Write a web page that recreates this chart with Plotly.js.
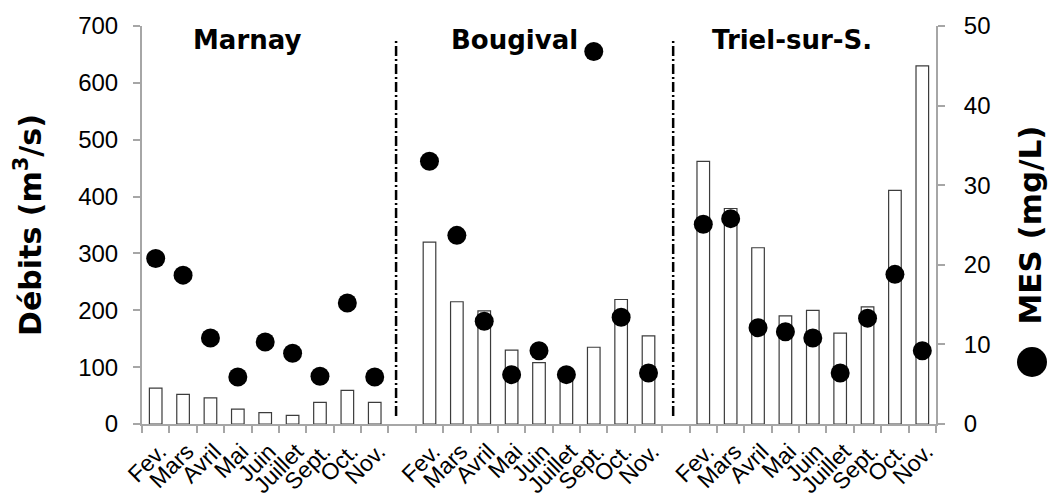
<!DOCTYPE html>
<html>
<head>
<meta charset="utf-8">
<script src="https://cdn.plot.ly/plotly-3.0.1.min.js"></script>
<style>html,body{margin:0;padding:0;background:#fff;}#chart{width:1049px;height:498px;}</style>
</head>
<body>
<div id="chart"></div>
<script>
// ---- data ----
const months = ['Fev.', 'Mars', 'Avril', 'Mai', 'Juin', 'Juillet', 'Sept.', 'Oct.', 'Nov.'];
const sites = ['Marnay', 'Bougival', 'Triel-sur-S.'];
const debitMarnay   = [63, 52, 46, 26, 20, 15, 38, 59, 38];
const debitBougival = [320, 215, 199, 130, 108, 85, 135, 219, 155];
const debitTriel    = [462, 379, 310, 190, 200, 160, 206, 411, 630];
const mesMarnay   = [20.8, 18.7, 10.8, 5.9, 10.3, 8.9, 6.0, 15.2, 5.9];
const mesBougival = [33.0, 23.7, 12.9, 6.2, 9.2, 6.2, 46.8, 13.4, 6.4];
const mesTriel    = [25.1, 25.8, 12.1, 11.6, 10.8, 6.4, 13.3, 18.8, 9.2];
const yTitleLeft = 'Débits (m<sup>3</sup>/s)';
const yTitleRight = 'MES (mg/L)';

// ---- build categories (site blocks separated by an empty slot) ----
const debits = [debitMarnay, debitBougival, debitTriel];
const mes = [mesMarnay, mesBougival, mesTriel];
const catOrder = [], tickText = [];
const xs = [], yBar = [], yDot = [];
const gapIndex = [];
sites.forEach((s, si) => {
  if (si > 0) { const g = 'gap' + si; gapIndex.push(catOrder.length); catOrder.push(g); tickText.push(''); }
  months.forEach((m, mi) => {
    const id = s + ' ' + m;
    catOrder.push(id); tickText.push(m);
    xs.push(id); yBar.push(debits[si][mi]); yDot.push(mes[si][mi]);
  });
});

const bars = {
  type: 'bar', x: xs, y: yBar, yaxis: 'y',
  marker: {color: '#ffffff', line: {color: '#3c3c3c', width: 1.2}},
  hoverinfo: 'x+y', showlegend: false
};
const dots = {
  type: 'scatter', mode: 'markers', x: xs, y: yDot, yaxis: 'y2',
  marker: {color: '#000000', size: 19, line: {width: 0}},
  showlegend: false
};

const axisGray = '#a6a6a6';
const tickFont = {family: 'Liberation Sans, Arial, sans-serif', size: 24, color: '#000'};
const boldFont = {family: 'DejaVu Sans, sans-serif', size: 26, color: '#000', weight: 'bold'};

const shapes = gapIndex.map((gi, k) => ({
  type: 'line', xref: 'x', yref: 'y',
  x0: gi - (k === 0 ? 0.22 : 0.1), x1: gi - (k === 0 ? 0.22 : 0.1),
  y0: 14, y1: 676,
  line: {color: '#000', width: 2.5, dash: '10px,3px,2px,3px'}
}));
shapes.push({
  type: 'circle', xref: 'paper', yref: 'paper',
  xsizemode: 'pixel', ysizemode: 'pixel',
  xanchor: 1.1209, yanchor: 0.1558,
  x0: -15, x1: 15, y0: -15, y1: 15,
  fillcolor: '#000', line: {width: 0}
});

const titleOffsets = [3.33, 13.12, 23.24];
const annotations = sites.map((s, si) => ({
  text: '<b>' + s + '</b>', xref: 'x', yref: 'y',
  x: titleOffsets[si], y: 675, xanchor: 'center', yanchor: 'middle',
  showarrow: false, font: boldFont
}));

const layout = {
  width: 1049, height: 498,
  margin: {l: 142, r: 113, t: 26, b: 74},
  paper_bgcolor: '#fff', plot_bgcolor: '#fff',
  bargap: 0.54,
  xaxis: {
    type: 'category', categoryorder: 'array', categoryarray: catOrder,
    tickmode: 'array', tickvals: catOrder, ticktext: tickText,
    tickson: 'boundaries', ticks: 'outside', ticklen: 7, tickwidth: 2, tickcolor: axisGray,
    showline: true, linecolor: axisGray, linewidth: 2,
    showgrid: false, zeroline: false,
    tickangle: -45, tickfont: {family: 'Liberation Sans, Arial, sans-serif', size: 23, color: '#000'},
    ticklabelstandoff: 3, ticklabelshift: 4,
    range: [-0.5, catOrder.length - 0.5]
  },
  yaxis: {
    range: [0, 700], tickvals: [0, 100, 200, 300, 400, 500, 600, 700],
    ticks: 'outside', ticklen: 7, tickwidth: 2, tickcolor: axisGray,
    showline: true, linecolor: axisGray, linewidth: 2,
    showgrid: false, zeroline: false, tickfont: tickFont, ticklabelstandoff: 10,
    title: {text: '<b>' + yTitleLeft + '</b>', font: {family: 'DejaVu Sans, sans-serif', size: 30, color: '#000'}, standoff: 28}
  },
  yaxis2: {
    overlaying: 'y', side: 'right',
    range: [0, 50], tickvals: [0, 10, 20, 30, 40, 50],
    ticks: 'outside', ticklen: 7, tickwidth: 2, tickcolor: axisGray,
    showline: true, linecolor: axisGray, linewidth: 2,
    showgrid: false, zeroline: false, tickfont: tickFont, ticklabelstandoff: 14,
    title: {text: '<b>' + yTitleRight + '</b>', font: {family: 'DejaVu Sans, sans-serif', size: 31, color: '#000'}, standoff: 30}
  },
  shapes: shapes,
  annotations: annotations,
  showlegend: false
};

Plotly.newPlot('chart', [bars, dots], layout, {displayModeBar: false, staticPlot: true});
</script>
</body>
</html>
